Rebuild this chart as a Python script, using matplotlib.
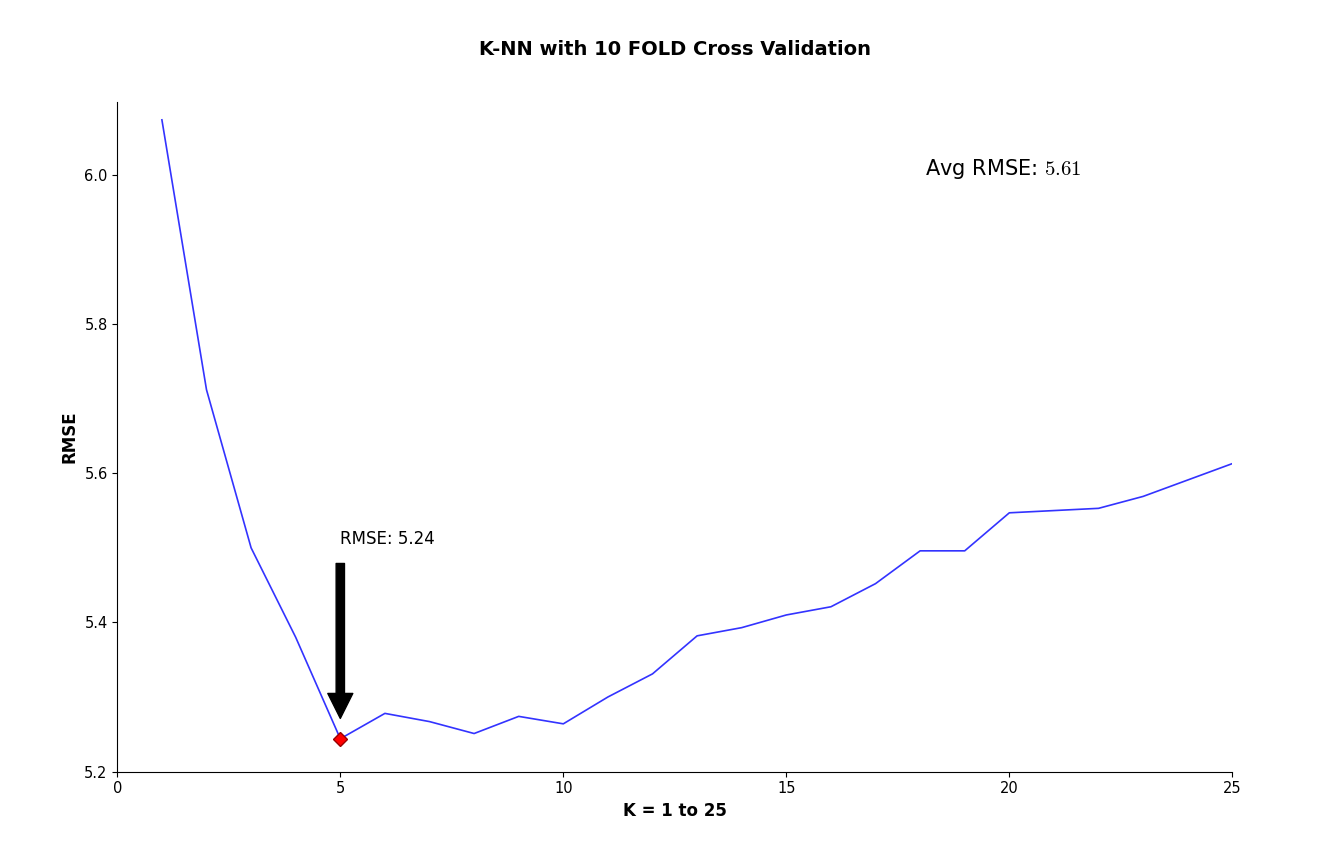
import matplotlib
matplotlib.use('Agg')
import matplotlib.pyplot as plt

plt.rcParams['mathtext.fontset'] = 'cm'

k = list(range(1, 26))
rmse = [6.074, 5.712, 5.500, 5.380, 5.244, 5.278, 5.267, 5.251, 5.274, 5.264,
        5.300, 5.331, 5.382, 5.393, 5.410, 5.421, 5.452, 5.496, 5.496, 5.547,
        5.550, 5.553, 5.569, 5.591, 5.613]
best_k = 5
best_rmse = 5.244
avg_rmse = 5.61

fig, ax = plt.subplots(figsize=(13.18, 8.64), dpi=100)
fig.subplots_adjust(left=0.089, right=0.935, top=0.882, bottom=0.107)
ax.plot(k, rmse, color='#3333ff', lw=1.2)
ax.plot(best_k, best_rmse, 'D', color='red', mec='#990000', ms=7)
ax.annotate('RMSE: %.2f' % best_rmse, xy=(best_k, best_rmse + 0.01), xytext=(best_k, 5.5),
            fontsize=12, va='bottom',
            arrowprops=dict(facecolor='black', width=6, headwidth=18, headlength=18, shrink=0.07))
ax.text(18.1, 6.0, 'Avg RMSE: $%.2f$' % avg_rmse, fontsize=15)
ax.set_xlim(0, 25)
ax.set_ylim(5.2, 6.098)
ax.set_xticks([0, 5, 10, 15, 20, 25])
ax.set_yticks([5.2, 5.4, 5.6, 5.8, 6.0])
ax.spines['top'].set_visible(False)
ax.spines['right'].set_visible(False)
ax.tick_params(labelsize=10.5)
ax.set_xlabel('K = 1 to 25', fontsize=12, fontweight='bold')
ax.set_ylabel('RMSE', fontsize=12, fontweight='bold')
ax.set_title('K-NN with 10 FOLD Cross Validation', fontsize=14, fontweight='bold', pad=34)
fig.savefig('out.png')
